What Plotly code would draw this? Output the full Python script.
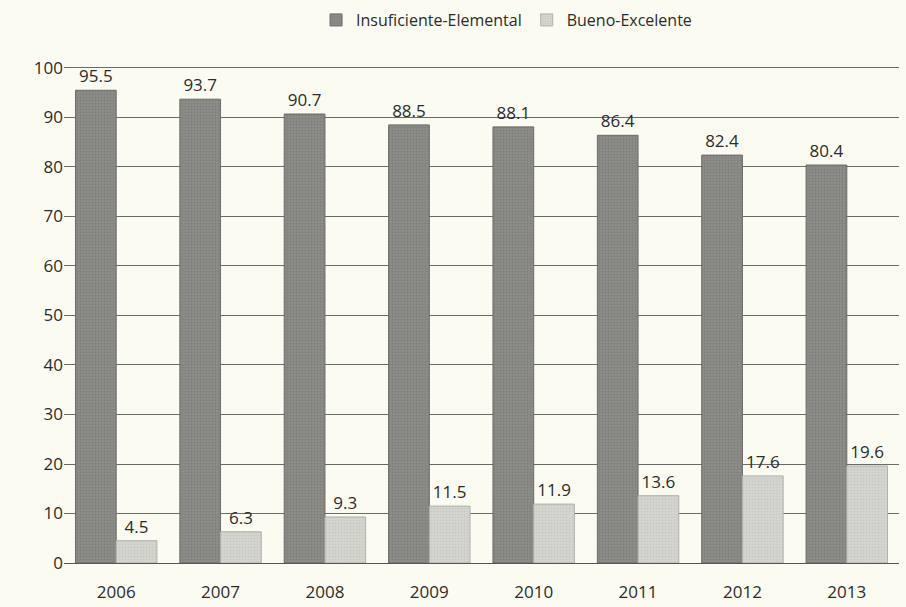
import plotly.graph_objects as go

years = ["2006", "2007", "2008", "2009", "2010", "2011", "2012", "2013"]
insuficiente = [95.5, 93.7, 90.7, 88.5, 88.1, 86.4, 82.4, 80.4]
bueno = [4.5, 6.3, 9.3, 11.5, 11.9, 13.6, 17.6, 19.6]
tick_vals = [0, 10, 20, 30, 40, 50, 60, 70, 80, 90, 100]

font = "Open Sans, Noto Sans, sans-serif"
txtcol = "#2b2b2b"

fig = go.Figure()
fig.add_trace(go.Bar(
    name="Insuficiente-Elemental", x=years, y=insuficiente,
    marker=dict(color="#8c8c88", line=dict(color="#6a6a66", width=1),
                pattern=dict(shape=".", fgcolor="#6e6e6a", size=3, solidity=0.3)),
    text=[f"{v:.1f}" for v in insuficiente], textposition="outside",
    textfont=dict(size=17, color=txtcol, family=font), cliponaxis=False,
))
fig.add_trace(go.Bar(
    name="Bueno-Excelente", x=years, y=bueno,
    marker=dict(color="#d6d6d0", line=dict(color="#b0b0aa", width=1),
                pattern=dict(shape=".", fgcolor="#babab4", size=3, solidity=0.3)),
    text=[f"{v:.1f}" for v in bueno], textposition="outside",
    textfont=dict(size=17, color=txtcol, family=font), cliponaxis=False,
))

fig.update_layout(
    width=906, height=607,
    paper_bgcolor="#fbfbf1", plot_bgcolor="#fbfbf1",
    margin=dict(l=64, r=7, t=66, b=44, autoexpand=False),
    barmode="group", bargap=0.22, bargroupgap=0,
    font=dict(family=font, size=16, color=txtcol),
    legend=dict(orientation="h", x=0.53, xanchor="center", y=0.995, yanchor="top",
                yref="container", font=dict(size=16, color=txtcol), bgcolor="rgba(0,0,0,0)",
                itemwidth=30),
    xaxis=dict(showgrid=False, ticks="outside", ticklen=14, tickcolor="rgba(0,0,0,0)",
               tickfont=dict(size=17), showline=True, linecolor="#555", linewidth=1),
    yaxis=dict(range=[0, 100.4], tickvals=tick_vals, showgrid=True, gridcolor="#6a6a66",
               gridwidth=1, zeroline=False, tickfont=dict(size=17),
               ticks="", showline=False),
)

fig.write_html("out.html", config={"displayModeBar": False},
               post_script="document.body.style.margin='0';document.body.style.background='#fbfbf1';")
